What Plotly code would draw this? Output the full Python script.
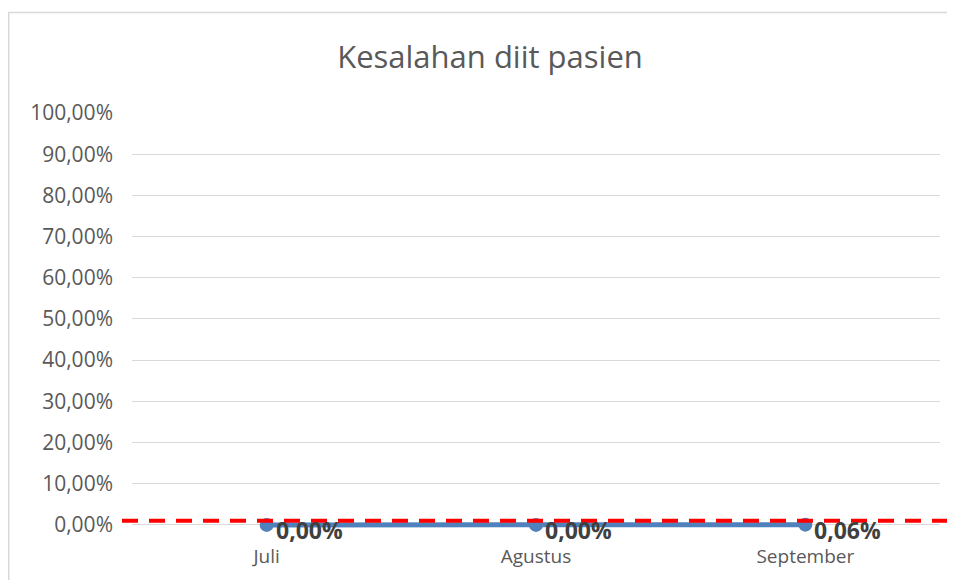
import plotly.graph_objects as go

months = ["Juli", "Agustus", "September"]
values = [0.0, 0.0, 0.06]
labels = ["0,00%", "0,00%", "0,06%"]
target = 1.0
tick_vals = [0, 10, 20, 30, 40, 50, 60, 70, 80, 90, 100]
tick_text = ["0,00%", "10,00%", "20,00%", "30,00%", "40,00%", "50,00%",
             "60,00%", "70,00%", "80,00%", "90,00%", "100,00%"]

FONT = "Open Sans"
# the page body has an 8px margin, so the figure is drawn 8px in from the window corner
W, H = 947, 572
L, R, T, B = 124, 15, 105, 51
pw = W - L - R
ph = H - T - B

fig = go.Figure()
fig.add_trace(go.Scatter(
    x=months, y=values, mode="lines+markers",
    line=dict(color="#4f81bd", width=5),
    marker=dict(color="#4f81bd", size=14),
    cliponaxis=False, showlegend=False, hoverinfo="skip",
))

for m, v, t in zip(months, values, labels):
    fig.add_annotation(x=m, y=v, text=t, showarrow=False,
                       xanchor="left", yanchor="middle", xshift=7, yshift=-5,
                       font=dict(family=FONT, size=23, color="#404040", weight="bold"))

# target dashed line
fig.add_shape(type="line", xref="paper", yref="y",
              x0=(114 - L) / pw, x1=(950 - L) / pw, y0=target, y1=target,
              line=dict(color="#ff0000", width=4, dash="16px,11px"))

# chart border
fig.add_shape(type="rect", xref="paper", yref="paper",
              x0=(0.75 - L) / pw, x1=(980 - L) / pw,
              y0=-200 / ph, y1=(H - B - 4.5) / ph,
              line=dict(color="#d9d9d9", width=1.5), layer="below")

fig.update_layout(
    width=W, height=H,
    margin=dict(l=L, r=R, t=T, b=B),
    paper_bgcolor="white", plot_bgcolor="white",
    title=dict(text="Kesalahan diit pasien", x=(490 - 8) / W, xref="container",
               xanchor="center",
               y=1 - 49 / H, yanchor="middle",
               font=dict(family=FONT, size=31, color="#595959")),
    xaxis=dict(type="category", showgrid=False, showline=False, zeroline=False,
               ticks="", tickfont=dict(family=FONT, size=19, color="#595959"),
               range=[-0.5, 2.5], ticklabelstandoff=14),
    yaxis=dict(range=[-1, 100], tickvals=tick_vals, ticktext=tick_text,
               showgrid=True, gridcolor="#d9d9d9", gridwidth=1,
               zeroline=False, showline=False, ticks="",
               tickfont=dict(family=FONT, size=21, color="#595959"),
               ticklabelstandoff=18),
)

fig.write_html("out.html")
